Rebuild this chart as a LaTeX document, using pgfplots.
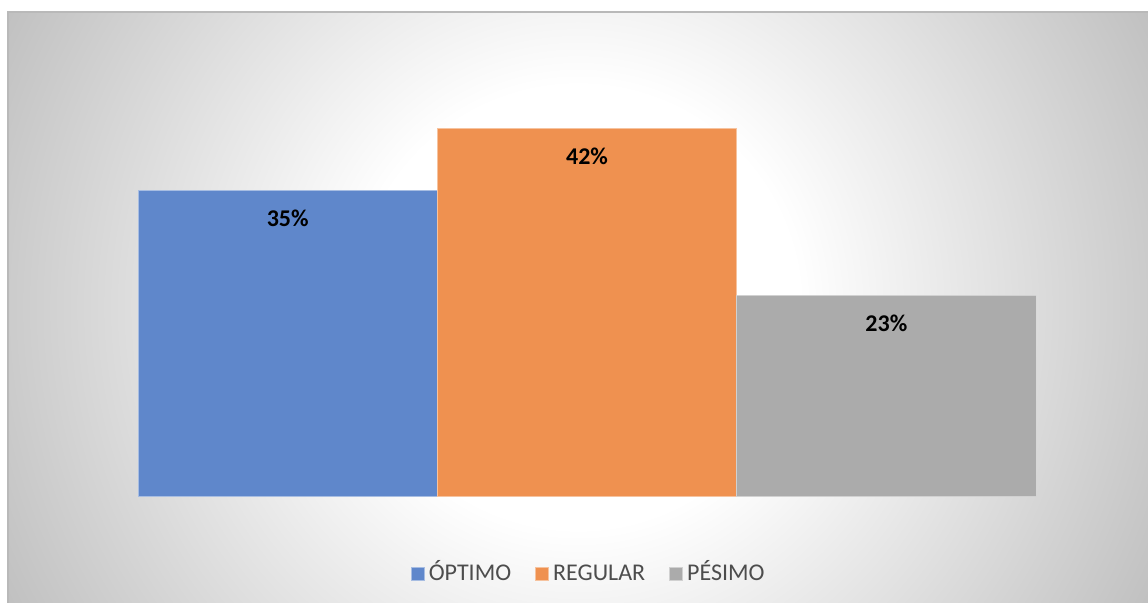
\documentclass[border=0pt]{standalone}
\usepackage{fontspec}
\setmainfont{Carlito}
\usepackage{pgfplots}
\pgfplotsset{compat=1.18}
\definecolor{cblue}{HTML}{5F87CB}
\definecolor{corange}{HTML}{EF9150}
\definecolor{cgray}{HTML}{ABABAB}
\definecolor{bgedge}{HTML}{C0C0C0}
\definecolor{legtext}{HTML}{4D4D4D}
\pgfdeclareradialshading{bgshade}{\pgfpointorigin}{color(0bp)=(white); color(110bp)=(white); color(322bp)=(bgedge); color(330bp)=(bgedge)}

\begin{document}
\begin{tikzpicture}
\useasboundingbox (0,0) rectangle (574pt,301.5pt);
\begin{scope}
\clip (4pt,0pt) rectangle (574pt,295.5pt);
\begin{scope}[shift={(289pt,148pt)}]
\pgflowlevelsynccm
\pgfuseshading{bgshade}
\end{scope}
\end{scope}
\draw[color=gray!55, line width=0.6pt] (4pt,0pt) -- (4pt,295.5pt) -- (574pt,295.5pt);
\begin{axis}[
 at={(69pt,53pt)}, anchor=south west, scale only axis,
 width=449pt, height=219.25pt,
 xmin=-0.5, xmax=2.5, ymin=0, ymax=50,
 axis lines=none, xtick=\empty, ytick=\empty,
 /pgf/number format/assume math mode=true,
 ybar, bar width=1,
 nodes near coords={\pgfmathprintnumber{\pgfplotspointmeta}\%},
 nodes near coords style={font=\fontsize{12}{14}\selectfont\bfseries, text=black, anchor=center, yshift=-14pt},
 legend columns=-1,
 legend style={at={(0.503,-0.175)}, anchor=center, draw=none, fill=none, font=\fontsize{12}{14}\selectfont, text=legtext, nodes={text height=0.85em, text depth=0.2em}, /tikz/every even column/.append style={column sep=10pt}},
 legend image code/.code={\fill[#1] (0pt,-3.25pt) rectangle (6.5pt,3.25pt);},
]
\addplot[fill=cblue, draw=cblue!55!white, line width=0.5pt, bar shift=0pt] coordinates {(0,35)};
\addplot[fill=corange, draw=corange!55!white, line width=0.5pt, bar shift=0pt] coordinates {(1,42)};
\addplot[fill=cgray, draw=cgray!55!white, line width=0.5pt, bar shift=0pt] coordinates {(2,23)};
\legend{ÓPTIMO, REGULAR, PÉSIMO}
\end{axis}
\end{tikzpicture}
\end{document}
